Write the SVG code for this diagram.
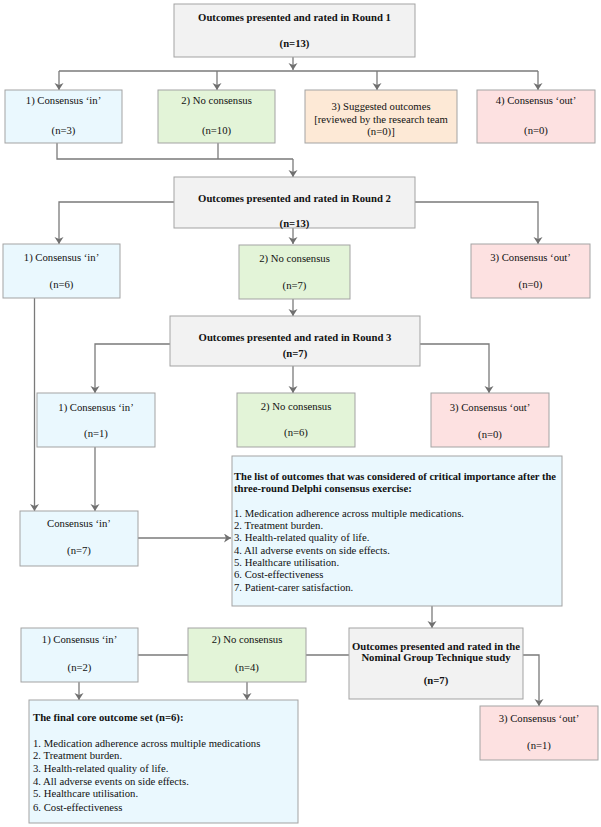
<svg xmlns="http://www.w3.org/2000/svg" width="601" height="827" viewBox="0 0 601 827">
<defs>
<marker id="ah" markerUnits="userSpaceOnUse" markerWidth="10" markerHeight="10" refX="7" refY="4.5" orient="auto">
<path d="M0,0 L7,4.5 L0,9 L2,4.5 Z" fill="#707070"/>
</marker>
<style>
.t{font-family:"Liberation Serif","Times New Roman",serif;font-size:10.7px;fill:#111;text-anchor:middle}
.b{font-weight:bold}
.l{text-anchor:start}
.box{stroke:#a3a3a3;stroke-width:1}
.gray{fill:#f2f2f2}
.blue{fill:#eaf8fe}
.green{fill:#e3f4d8}
.orange{fill:#fde9d6}
.pink{fill:#fde1e1}
.c{fill:none;stroke:#7a7a7a;stroke-width:1.3}
.a{marker-end:url(#ah)}
</style>
</defs>
<rect width="601" height="827" fill="#ffffff"/>
<g id="connectors">
<path class="c a" d="M293,57 V70"/>
<path class="c" d="M59,71 H538"/>
<path class="c a" d="M59,71 V90"/>
<path class="c a" d="M217,71 V90"/>
<path class="c a" d="M377,71 V90"/>
<path class="c a" d="M538,71 V90"/>
<path class="c" d="M57,143 V159 H293"/>
<path class="c" d="M218,143 V159"/>
<path class="c a" d="M293,159 V177"/>
<path class="c a" d="M174,202 H59 V244"/>
<path class="c a" d="M415,202 H538 V244"/>
<path class="c a" d="M293,228 V244"/>
<path class="c a" d="M34.5,298 V511"/>
<path class="c a" d="M293,299 V316"/>
<path class="c a" d="M170,344 H95 V393"/>
<path class="c a" d="M420,344 H489 V393"/>
<path class="c a" d="M293,366 V393"/>
<path class="c a" d="M95,447 V511"/>
<path class="c a" d="M138,538 H231"/>
<path class="c a" d="M432,606 V628"/>
<path class="c" d="M349,655 H138"/>
<path class="c a" d="M523,655 H539 V706"/>
<path class="c a" d="M79,682 V700"/>
<path class="c a" d="M247,682 V700"/>
</g>
<g id="round1">
<rect class="box gray" x="174" y="4" width="241" height="53"/>
<text class="t b" x="294.5" y="21">Outcomes presented and rated in Round 1</text>
<text class="t b" x="294.5" y="47">(n=13)</text>
</g>
<g id="r1-in">
<rect class="box blue" x="5" y="90" width="117" height="53"/>
<text class="t" x="63.5" y="104">1) Consensus ‘in’</text>
<text class="t" x="63.5" y="134">(n=3)</text>
</g>
<g id="r1-no">
<rect class="box green" x="158" y="90" width="117" height="53"/>
<text class="t" x="216.5" y="104">2) No consensus</text>
<text class="t" x="216.5" y="134">(n=10)</text>
</g>
<g id="r1-suggested">
<rect class="box orange" x="305" y="90" width="152" height="53"/>
<text class="t" x="381" y="110">3) Suggested outcomes</text>
<text class="t" x="381" y="123">[reviewed by the research team</text>
<text class="t" x="381" y="135">(n=0)]</text>
</g>
<g id="r1-out">
<rect class="box pink" x="477" y="90" width="118" height="53"/>
<text class="t" x="536" y="104">4) Consensus ‘out’</text>
<text class="t" x="536" y="134">(n=0)</text>
</g>
<g id="round2">
<rect class="box gray" x="174" y="177" width="241" height="51"/>
<text class="t b" x="294.5" y="202">Outcomes presented and rated in Round 2</text>
<text class="t b" x="294.5" y="227">(n=13)</text>
</g>
<g id="r2-in">
<rect class="box blue" x="3" y="244" width="117" height="54"/>
<text class="t" x="61.5" y="261">1) Consensus ‘in’</text>
<text class="t" x="61.5" y="288">(n=6)</text>
</g>
<g id="r2-no">
<rect class="box green" x="239" y="245" width="111" height="54"/>
<text class="t" x="294.5" y="262">2) No consensus</text>
<text class="t" x="294.5" y="289">(n=7)</text>
</g>
<g id="r2-out">
<rect class="box pink" x="471" y="244" width="119" height="54"/>
<text class="t" x="530.5" y="261">3) Consensus ‘out’</text>
<text class="t" x="530.5" y="288">(n=0)</text>
</g>
<g id="round3">
<rect class="box gray" x="170" y="316" width="250" height="50"/>
<text class="t b" x="295" y="341">Outcomes presented and rated in Round 3</text>
<text class="t b" x="295" y="357">(n=7)</text>
</g>
<g id="r3-in">
<rect class="box blue" x="37" y="393" width="118" height="54"/>
<text class="t" x="96" y="411">1) Consensus ‘in’</text>
<text class="t" x="96" y="437">(n=1)</text>
</g>
<g id="r3-no">
<rect class="box green" x="237" y="393" width="118" height="54"/>
<text class="t" x="296" y="410">2) No consensus</text>
<text class="t" x="296" y="436">(n=6)</text>
</g>
<g id="r3-out">
<rect class="box pink" x="431" y="393" width="118" height="54"/>
<text class="t" x="490" y="411">3) Consensus ‘out’</text>
<text class="t" x="490" y="438">(n=0)</text>
</g>
<g id="delphi-in">
<rect class="box blue" x="20" y="511" width="118" height="55"/>
<text class="t" x="79" y="527">Consensus ‘in’</text>
<text class="t" x="79" y="554">(n=7)</text>
</g>
<g id="delphi-list">
<rect class="box blue" x="232" y="456" width="330" height="150"/>
<text class="t b l" x="234" y="480" textLength="322" lengthAdjust="spacingAndGlyphs">The list of outcomes that was considered of critical importance after the</text>
<text class="t b l" x="234" y="492">three-round Delphi consensus exercise:</text>
<text class="t l" x="234" y="517">1. Medication adherence across multiple medications.</text>
<text class="t l" x="234" y="529">2. Treatment burden.</text>
<text class="t l" x="234" y="541">3. Health-related quality of life.</text>
<text class="t l" x="234" y="554">4. All adverse events on side effects.</text>
<text class="t l" x="234" y="566">5. Healthcare utilisation.</text>
<text class="t l" x="234" y="578">6. Cost-effectiveness</text>
<text class="t l" x="234" y="591">7. Patient-carer satisfaction.</text>
</g>
<g id="ngt">
<rect class="box gray" x="349" y="628" width="174" height="71"/>
<text class="t b" x="436" y="650">Outcomes presented and rated in the</text>
<text class="t b" x="436" y="661">Nominal Group Technique study</text>
<text class="t b" x="436" y="684">(n=7)</text>
</g>
<g id="ngt-in">
<rect class="box blue" x="21" y="628" width="117" height="54"/>
<text class="t" x="79.5" y="643">1) Consensus ‘in’</text>
<text class="t" x="79.5" y="671">(n=2)</text>
</g>
<g id="ngt-no">
<rect class="box green" x="188" y="628" width="118" height="54"/>
<text class="t" x="247" y="643">2) No consensus</text>
<text class="t" x="247" y="671">(n=4)</text>
</g>
<g id="ngt-out">
<rect class="box pink" x="480" y="706" width="118" height="54"/>
<text class="t" x="539" y="722">3) Consensus ‘out’</text>
<text class="t" x="539" y="749">(n=1)</text>
</g>
<g id="final-set">
<rect class="box blue" x="29" y="700" width="269" height="123"/>
<text class="t b l" x="33" y="721">The final core outcome set (n=6):</text>
<text class="t l" x="33" y="747">1. Medication adherence across multiple medications</text>
<text class="t l" x="33" y="759">2. Treatment burden.</text>
<text class="t l" x="33" y="772">3. Health-related quality of life.</text>
<text class="t l" x="33" y="785">4. All adverse events on side effects.</text>
<text class="t l" x="33" y="797">5. Healthcare utilisation.</text>
<text class="t l" x="33" y="811">6. Cost-effectiveness</text>
</g>
</svg>
